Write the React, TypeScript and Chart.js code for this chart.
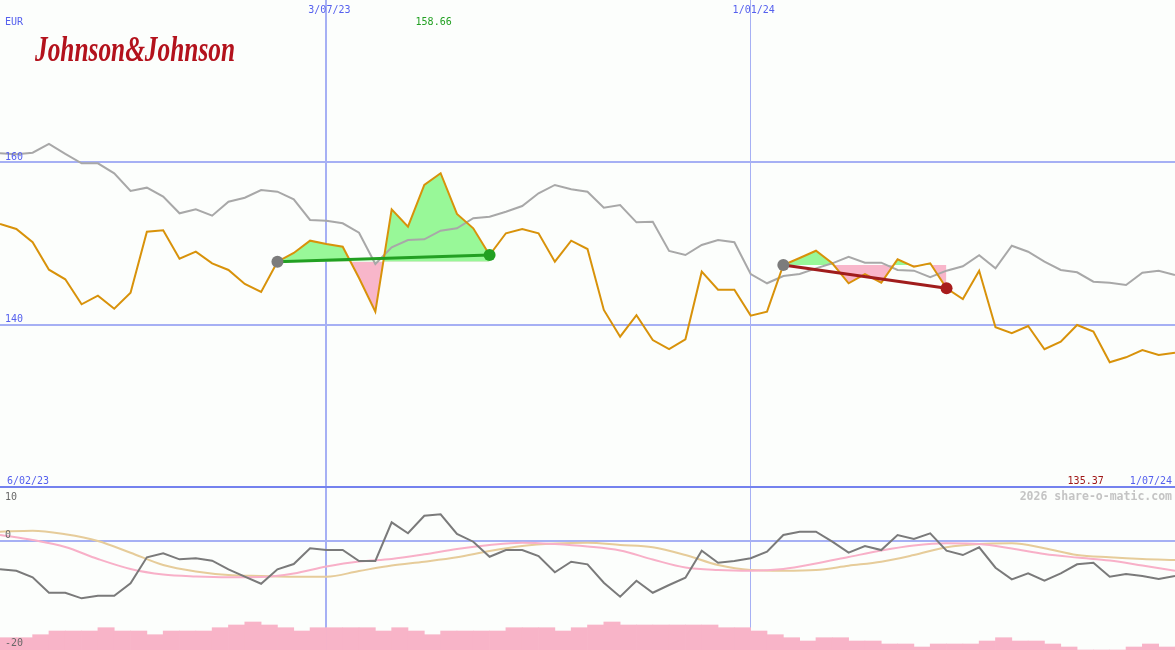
import React, { useEffect, useRef } from 'react';
import { Chart, registerables } from 'chart.js';

Chart.register(...registerables);

// ---------- data ----------
const weekIdx: number[] = Array.from({ length: 73 }, (_, i) => i);

const priceEUR: number[] = [
  152.40, 151.79, 150.15, 146.77, 145.59, 142.51, 143.57, 141.97, 143.94, 151.46,
  151.63, 148.13, 148.99, 147.56, 146.74, 145.01, 144.03, 147.76, 148.83, 150.35,
  149.94, 149.61, 145.75, 141.60, 154.21, 152.07, 157.21, 158.66, 153.64, 151.87,
  148.58, 151.26, 151.79, 151.26, 147.76, 150.35, 149.32, 141.81, 138.52, 141.16,
  138.11, 137.00, 138.20, 146.53, 144.31, 144.31, 141.11, 141.60, 147.35, 148.21,
  149.11, 147.56, 145.10, 146.24, 145.17, 148.05, 147.14, 147.56, 144.48, 143.16,
  146.65, 139.68, 138.94, 139.84, 136.97, 137.90, 139.96, 139.14, 135.37, 135.98,
  136.88, 136.26, 136.55,
];

const greyLine: number[] = [
  161.11, 160.99, 161.19, 162.26, 161.03, 159.88, 159.88, 158.65, 156.47, 156.88,
  155.77, 153.72, 154.21, 153.43, 155.15, 155.64, 156.59, 156.38, 155.45, 152.90,
  152.81, 152.49, 151.33, 147.47, 149.53, 150.43, 150.52, 151.58, 151.87, 153.11,
  153.30, 153.92, 154.62, 156.19, 157.21, 156.68, 156.38, 154.41, 154.74, 152.61,
  152.69, 149.08, 148.58, 149.82, 150.43, 150.15, 146.24, 145.10, 146.00, 146.24,
  146.94, 147.56, 148.37, 147.64, 147.64, 146.74, 146.65, 145.84, 146.65, 147.19,
  148.55, 146.94, 149.73, 148.99, 147.76, 146.74, 146.45, 145.29, 145.17, 144.89,
  146.40, 146.65, 146.12,
];

const momentum: number[] = [
  -5.15, -5.41, -6.62, -9.46, -9.46, -10.49, -10.01, -10.01, -7.73, -2.94,
  -2.20, -3.31, -3.12, -3.57, -5.15, -6.51, -7.80, -5.15, -4.17, -1.28,
  -1.60, -1.60, -3.62, -3.62, 3.50, 1.48, 4.72, 4.98, 1.35, -0.07,
  -2.83, -1.60, -1.60, -2.70, -5.70, -3.75, -4.23, -7.61, -10.19, -7.25,
  -9.46, -8.04, -6.69, -1.72, -3.93, -3.62, -3.12, -1.91, 1.17, 1.77,
  1.77, -0.06, -2.09, -0.86, -1.60, 1.17, 0.43, 1.48, -1.72, -2.52,
  -1.10, -4.85, -6.99, -5.88, -7.25, -5.88, -4.23, -3.93, -6.51, -6.01,
  -6.38, -6.93, -6.38,
];

const avgIdx: number[] = [
  0, 2, 4, 6, 8, 10, 12, 14, 16, 18, 20, 22, 24, 26, 28, 30, 32, 34, 36,
  38, 40, 42, 44, 46, 48, 50, 52, 54, 56, 58, 60, 62, 64, 66, 68, 70, 72,
];

const pinkAvg: number[] = [
  1.17, 0.24, -1.04, -3.25, -5.09, -6.11, -6.47, -6.62, -6.57, -5.92,
  -4.63, -3.71, -3.25, -2.39, -1.41, -0.68, -0.25, -0.49, -0.95, -1.69,
  -3.34, -4.82, -5.28, -5.41, -5.09, -4.08, -2.88, -1.69, -0.77, -0.36,
  -0.49, -1.32, -2.33, -2.98, -3.53, -4.45, -5.41,
];

const tanAvg: number[] = [
  1.77, 1.96, 1.29, 0.06, -2.09, -4.36, -5.55, -6.20, -6.38, -6.51,
  -6.51, -5.46, -4.45, -3.75, -2.94, -1.78, -0.86, -0.40, -0.25, -0.68,
  -1.10, -2.52, -4.36, -5.28, -5.41, -5.28, -4.49, -3.75, -2.52, -1.10,
  -0.49, -0.36, -1.28, -2.52, -2.94, -3.25, -3.44,
];

const volume: number[] = [
  12.3, 12.3, 15.3, 19, 19, 19, 22.3, 19, 19, 15.3,
  19, 19, 19, 22.3, 25, 28, 25, 22.3, 19, 22.3,
  22.3, 22.3, 22.3, 19, 22.3, 19, 15.3, 19, 19, 19,
  19, 22.3, 22.3, 22.3, 19, 22.3, 25, 28, 25, 25,
  25, 25, 25, 25, 22.3, 22.3, 19, 15.3, 12.3, 9,
  12.3, 12.3, 9, 9, 6, 6, 3, 6, 6, 6,
  9, 12.3, 9, 9, 6, 3, 0, 0, 0, 3,
  6, 3, 3,
];

const dateIdx: number[] = [20, 46];
const dateLabels: string[] = ['3/07/23', '1/01/24'];
const startLabel = '6/02/23';
const endLabel = '1/07/24';
const currencyLabel = 'EUR';
const companyName = 'Johnson&Johnson';
const watermark = '2026 share-o-matic.com';
const yTicksTop: number[] = [140, 160];
const yTicksBottom: number[] = [0, 10];
const yLabelsBottom: number[] = [10, 0, -20];

const trade1: number[] = [17, 30]; // start, end index (gain)
const trade2: number[] = [48, 58]; // start, end index (loss)

// ---------- styles ----------
const BG = '#fcfefc';
const BLUE_TXT = '#5560ee';
const GRID = '#a6b0f4';
const GRID_DARK = '#7482ee';
const ORANGE = '#d8920a';
const GREYL = '#a8a8a8';
const GREEN_FILL = '#98f898';
const PINK_FILL = '#f8b6ca';
const MONO = '"DejaVu Sans Mono", monospace';

const pts = (ix: number[], vals: number[]) => ix.map((x, k) => ({ x, y: vals[k] }));
const seg = (arr: number[], s: number, e: number) =>
  weekIdx.slice(s, e + 1).map((i) => ({ x: i, y: arr[i] }));

const topTextPlugin = {
  id: 'topText',
  afterDraw(chart: any) {
    const { ctx, height } = chart;
    const x = chart.scales.x;
    const y = chart.scales.y;
    ctx.save();
    ctx.textBaseline = 'alphabetic';
    ctx.font = `10px ${MONO}`;
    ctx.fillStyle = BLUE_TXT;
    ctx.textAlign = 'left';
    ctx.fillText(currencyLabel, 5, 25);
    yTicksTop.forEach((v) => ctx.fillText(String(v), 5, y.getPixelForValue(v) - 2.5));
    ctx.textAlign = 'center';
    dateIdx.forEach((d, k) => ctx.fillText(dateLabels[k], x.getPixelForValue(d) + 3, 13));
    ctx.textAlign = 'left';
    ctx.fillText(startLabel, 7, height - 1.5);
    ctx.textAlign = 'right';
    ctx.fillText(endLabel, chart.width - 3, height - 1.5);

    const maxV = Math.max(...priceEUR);
    const minV = Math.min(...priceEUR);
    const maxI = priceEUR.indexOf(maxV);
    const minI = priceEUR.indexOf(minV);
    ctx.textAlign = 'center';
    ctx.fillStyle = '#22a022';
    ctx.fillText(maxV.toFixed(2), x.getPixelForValue(maxI) - 7, 25);
    ctx.textAlign = 'right';
    ctx.fillStyle = '#a01818';
    ctx.fillText(minV.toFixed(2), x.getPixelForValue(minI) - 6, height - 1.5);

    // logo
    ctx.font = 'italic bold 36px "Liberation Serif", serif';
    ctx.fillStyle = '#b3121c';
    ctx.textAlign = 'left';
    const w = ctx.measureText(companyName).width;
    ctx.translate(35, 61);
    ctx.scale(200 / w, 1);
    ctx.fillText(companyName, 0, 0);
    ctx.restore();
  },
};

const bottomTextPlugin = {
  id: 'bottomText',
  afterDraw(chart: any) {
    const { ctx } = chart;
    const y = chart.scales.y;
    ctx.save();
    ctx.textBaseline = 'alphabetic';
    ctx.font = `10px ${MONO}`;
    ctx.fillStyle = '#686868';
    ctx.textAlign = 'left';
    yLabelsBottom.forEach((v) => {
      const p = y.getPixelForValue(v);
      const by = v === 10 ? p + 13 : v === 0 ? p - 3 : p - 4;
      ctx.fillText(String(v), 5, by);
    });
    ctx.font = `bold 11.5px ${MONO}`;
    ctx.fillStyle = '#c4c4c4';
    ctx.textAlign = 'right';
    ctx.fillText(watermark, chart.width - 3, y.getPixelForValue(10) + 13);
    ctx.restore();
  },
};

const xScale = () => ({
  type: 'linear' as const,
  min: 0,
  max: 72,
  offset: false,
  afterBuildTicks: (s: any) => {
    s.ticks = dateIdx.map((v) => ({ value: v }));
  },
  ticks: { display: false },
  border: { display: false },
  grid: {
    offset: false,
    drawTicks: false,
    color: GRID,
    lineWidth: (c: any) => (c.index === 0 ? 2 : 1),
  },
});

export default function App() {
  const topRef = useRef<HTMLCanvasElement>(null);
  const botRef = useRef<HTMLCanvasElement>(null);

  useEffect(() => {
    const top = new Chart(topRef.current as HTMLCanvasElement, {
      type: 'line',
      data: {
        datasets: [
          {
            label: 'start markers',
            data: [
              { x: trade1[0], y: priceEUR[trade1[0]] },
              { x: trade2[0], y: priceEUR[trade2[0]] },
            ],
            showLine: false,
            pointRadius: 6,
            pointBackgroundColor: '#7c7c7c',
            pointBorderWidth: 0,
            order: 0,
          },
          {
            label: 'end gain',
            data: [{ x: trade1[1], y: priceEUR[trade1[1]] }],
            showLine: false,
            pointRadius: 6,
            pointBackgroundColor: '#22a022',
            pointBorderWidth: 0,
            order: 0,
          },
          {
            label: 'end loss',
            data: [{ x: trade2[1], y: priceEUR[trade2[1]] }],
            showLine: false,
            pointRadius: 6,
            pointBackgroundColor: '#a81c1c',
            pointBorderWidth: 0,
            order: 0,
          },
          {
            label: 'trend gain',
            data: [
              { x: trade1[0], y: priceEUR[trade1[0]] },
              { x: trade1[1], y: priceEUR[trade1[1]] },
            ],
            borderColor: '#22a022',
            borderWidth: 3,
            pointRadius: 0,
            order: 1,
          },
          {
            label: 'trend loss',
            data: [
              { x: trade2[0], y: priceEUR[trade2[0]] },
              { x: trade2[1], y: priceEUR[trade2[1]] },
            ],
            borderColor: '#a01c1c',
            borderWidth: 3,
            pointRadius: 0,
            order: 1,
          },
          {
            label: 'price',
            data: pts(weekIdx, priceEUR),
            borderColor: ORANGE,
            borderWidth: 2,
            pointRadius: 0,
            tension: 0,
            order: 2,
          },
          {
            label: 'grey',
            data: pts(weekIdx, greyLine),
            borderColor: GREYL,
            borderWidth: 2,
            pointRadius: 0,
            order: 3,
          },
          {
            label: 'fill1',
            data: seg(priceEUR, trade1[0], trade1[1]),
            borderWidth: 0,
            borderColor: 'rgba(0,0,0,0)',
            pointRadius: 0,
            fill: { value: priceEUR[trade1[0]], above: GREEN_FILL, below: PINK_FILL },
            order: 4,
          },
          {
            label: 'fill2',
            data: seg(priceEUR, trade2[0], trade2[1]),
            borderWidth: 0,
            borderColor: 'rgba(0,0,0,0)',
            pointRadius: 0,
            fill: { value: priceEUR[trade2[0]], above: GREEN_FILL, below: PINK_FILL },
            order: 4,
          },
        ] as any,
      },
      options: {
        animation: false,
        responsive: false,
        events: [],
        layout: { padding: 0, autoPadding: false },
        plugins: { legend: { display: false }, tooltip: { enabled: false } },
        scales: {
          x: xScale() as any,
          y: {
            type: 'linear',
            min: 120.246,
            max: 180,
            afterBuildTicks: (s: any) => {
              s.ticks = yTicksTop.map((v) => ({ value: v }));
            },
            ticks: { display: false },
            border: { display: false },
            grid: { drawTicks: false, color: GRID, lineWidth: 2 },
          },
        },
      },
      plugins: [topTextPlugin],
    });

    const bot = new Chart(botRef.current as HTMLCanvasElement, {
      type: 'line',
      data: {
        datasets: [
          {
            label: 'momentum',
            data: pts(weekIdx, momentum),
            borderColor: '#7a7a7a',
            borderWidth: 2,
            pointRadius: 0,
            order: 0,
          },
          {
            label: 'pink avg',
            data: pts(avgIdx, pinkAvg),
            borderColor: '#f8b0c8',
            borderWidth: 2,
            pointRadius: 0,
            cubicInterpolationMode: 'monotone',
            order: 1,
          },
          {
            label: 'tan avg',
            data: pts(avgIdx, tanAvg),
            borderColor: '#e6cc9a',
            borderWidth: 2,
            pointRadius: 0,
            cubicInterpolationMode: 'monotone',
            order: 2,
          },
          {
            type: 'bar',
            label: 'volume',
            yAxisID: 'yv',
            data: weekIdx.map((i) => ({ x: i + 0.5, y: volume[i] })),
            backgroundColor: '#f8b4c8',
            borderWidth: 0,
            barPercentage: 1,
            categoryPercentage: 1,
            order: 10,
          },
        ] as any,
      },
      options: {
        animation: false,
        responsive: false,
        events: [],
        layout: { padding: 0, autoPadding: false },
        plugins: { legend: { display: false }, tooltip: { enabled: false } },
        scales: {
          x: xScale() as any,
          y: {
            type: 'linear',
            min: -20,
            max: 10.37,
            afterBuildTicks: (s: any) => {
              s.ticks = yTicksBottom.map((v) => ({ value: v }));
            },
            ticks: { display: false },
            border: { display: false },
            grid: {
              drawTicks: false,
              color: (c: any) => (c.tick && c.tick.value === 10 ? GRID_DARK : GRID),
              lineWidth: 2,
            },
          },
          yv: { type: 'linear', min: 0, max: 165, display: false },
        },
      },
      plugins: [bottomTextPlugin],
    });

    return () => {
      top.destroy();
      bot.destroy();
    };
  }, []);

  return (
    <div
      style={{
        position: 'absolute',
        left: 0,
        top: 0,
        width: 1175,
        height: 650,
        background: BG,
        overflow: 'hidden',
      }}
    >
      <canvas
        ref={topRef}
        width={1175}
        height={485}
        style={{ position: 'absolute', left: 0, top: 0, width: 1175, height: 485 }}
      />
      <canvas
        ref={botRef}
        width={1175}
        height={165}
        style={{ position: 'absolute', left: 0, top: 485, width: 1175, height: 165 }}
      />
    </div>
  );
}
